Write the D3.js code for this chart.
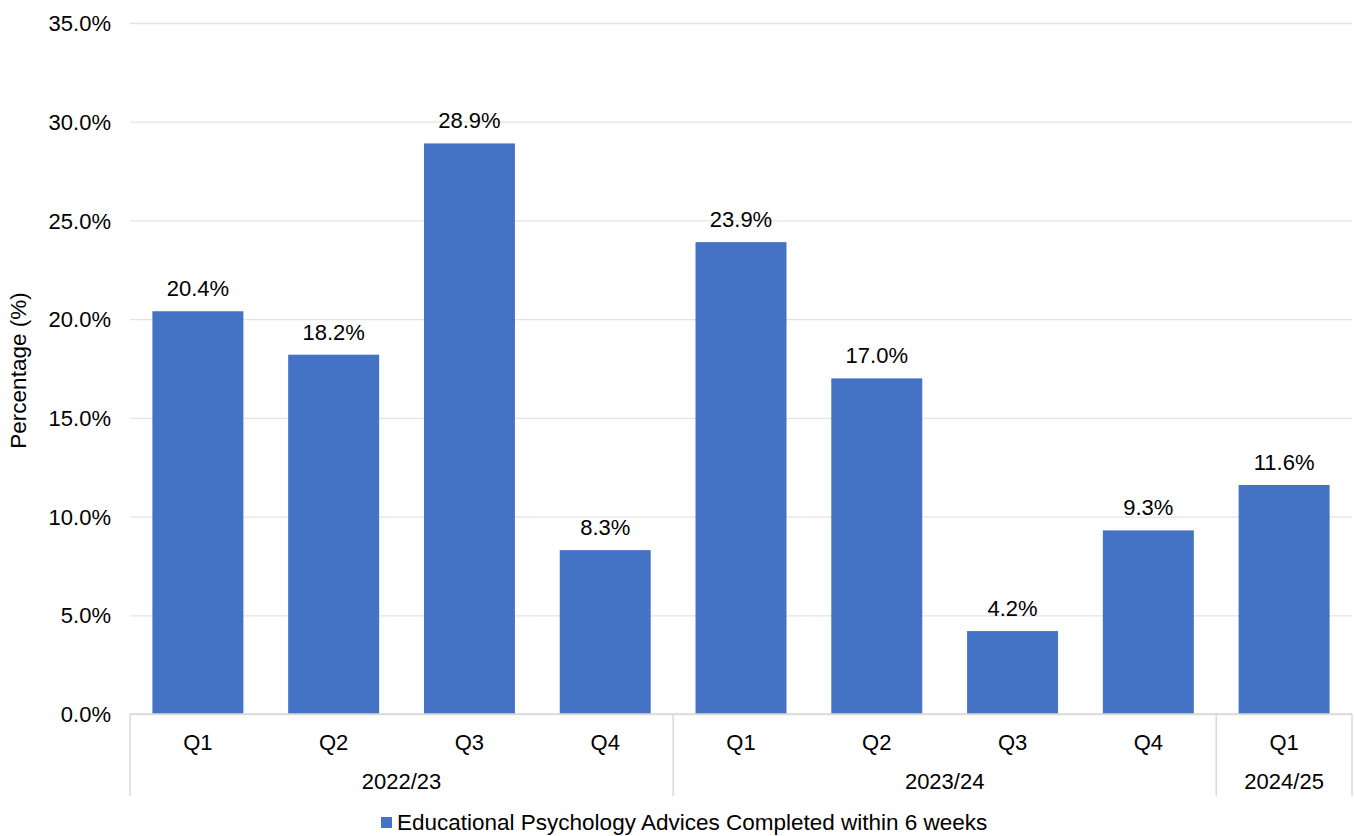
<!DOCTYPE html>
<html><head><meta charset="utf-8">
<script src="https://cdn.jsdelivr.net/npm/d3@7"></script>
<style>
html,body{margin:0;padding:0;background:#fff;}
svg text{font-family:"Liberation Sans",Arial,sans-serif;fill:#000;}
</style></head>
<body><svg id="chart" width="1354" height="836"></svg>
<script>
const quarters = ["Q1","Q2","Q3","Q4","Q1","Q2","Q3","Q4","Q1"];
const years = ["2022/23","2022/23","2022/23","2022/23","2023/24","2023/24","2023/24","2023/24","2024/25"];
const values = [20.4,18.2,28.9,8.3,23.9,17.0,4.2,9.3,11.6];
const yTicks = [0,5,10,15,20,25,30,35];
const seriesName = "Educational Psychology Advices Completed within 6 weeks";
const yTitle = "Percentage (%)";

(function(){
const svg = d3.select("#chart");
const pL = 130, pR = 1352, pT = 23, pB = 714;
const fs = 22;
const ids = d3.range(values.length);

const x = d3.scaleBand().domain(ids).range([pL, pR]).paddingInner(0.33).paddingOuter(0.165);
const y = d3.scaleLinear().domain([0,35]).range([pB, pT]);

// gridlines
const yAxis = d3.axisLeft(y).tickValues(yTicks).tickSize(-(pR-pL)).tickFormat(d => d.toFixed(1) + "%");
const gy = svg.append("g").attr("transform", `translate(${pL},0)`).call(yAxis);
gy.select(".domain").remove();
gy.selectAll(".tick line").attr("stroke", "#e3e3e3").attr("stroke-width", 1.3);
gy.selectAll(".tick text").attr("x", -19).attr("dy", "0.35em").style("font-size", fs + "px").attr("fill", "#000");

// bars
svg.append("g").selectAll("rect").data(ids).join("rect")
  .attr("x", i => x(i)).attr("width", x.bandwidth())
  .attr("y", i => y(values[i])).attr("height", i => y(0) - y(values[i]))
  .attr("fill", "#4472C4");

// data labels
svg.append("g").selectAll("text").data(ids).join("text")
  .attr("x", i => x(i) + x.bandwidth()/2).attr("y", i => y(values[i]) - 15)
  .attr("text-anchor", "middle").style("font-size", fs + "px")
  .text(i => values[i].toFixed(1) + "%");

// x axis line
svg.append("line").attr("x1", pL).attr("x2", pR).attr("y1", pB).attr("y2", pB)
  .attr("stroke", "#d9d9d9").attr("stroke-width", 1.5);

// quarter labels
svg.append("g").selectAll("text").data(ids).join("text")
  .attr("x", i => x(i) + x.bandwidth()/2).attr("y", 750)
  .attr("text-anchor", "middle").style("font-size", fs + "px")
  .text(i => quarters[i]);

// groups
const groups = [];
years.forEach((yr, i) => {
  const g = groups.find(g => g.name === yr);
  if (g) g.end = i; else groups.push({name: yr, start: i, end: i});
});
const step = x.step();
const gx0 = g => pL + g.start * step;
const gx1 = g => pL + (g.end + 1) * step;
const bounds = [pL, ...groups.map(gx1)];
svg.append("g").selectAll("line").data(bounds).join("line")
  .attr("x1", d => d).attr("x2", d => d).attr("y1", pB).attr("y2", 796)
  .attr("stroke", "#d9d9d9").attr("stroke-width", 1.5);
svg.append("g").selectAll("text").data(groups).join("text")
  .attr("x", g => (gx0(g) + gx1(g)) / 2).attr("y", 789)
  .attr("text-anchor", "middle").style("font-size", fs + "px")
  .text(g => g.name);

// y title
svg.append("text").attr("transform", `translate(26,${(pT+pB)/2 + 2}) rotate(-90)`)
  .attr("text-anchor", "middle").style("font-size", "22.5px").text(yTitle);

// legend
const lg = svg.append("g");
lg.append("rect").attr("x", 381).attr("y", 817).attr("width", 11).attr("height", 11).attr("fill", "#4472C4");
lg.append("text").attr("x", 397).attr("y", 830).style("font-size", "22.5px").text(seriesName);
})();
</script></body></html>
